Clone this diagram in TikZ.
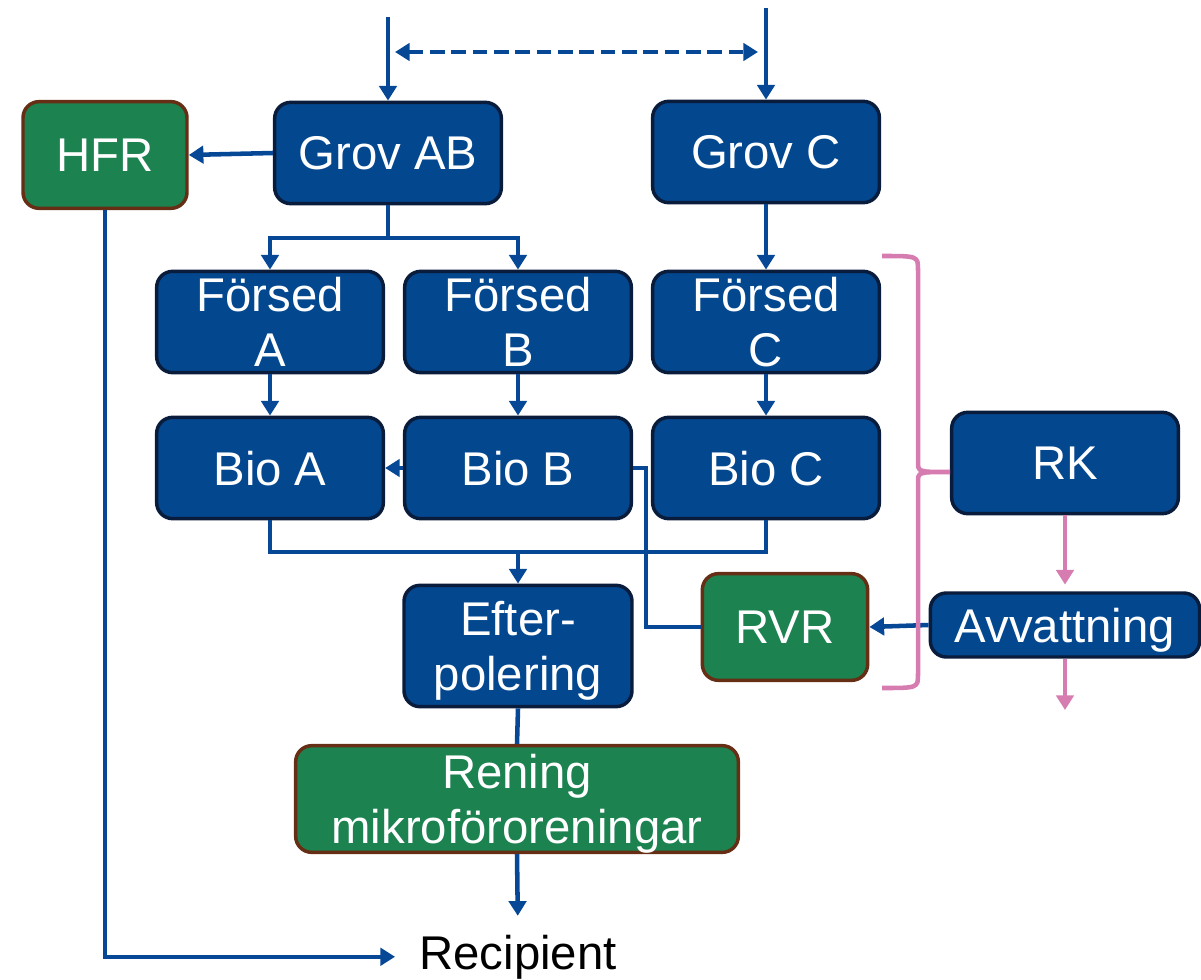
\documentclass[tikz,border=0pt]{standalone}
\usepackage{fontspec}
\setmainfont{Liberation Sans}
\usetikzlibrary{arrows.meta}

\definecolor{boxblue}{RGB}{3,71,143}
\definecolor{boxedge}{RGB}{10,28,60}
\definecolor{boxgreen}{RGB}{28,130,80}
\definecolor{greenedge}{RGB}{102,46,20}
\definecolor{flowblue}{RGB}{6,72,150}
\definecolor{sludgepink}{RGB}{214,124,176}

\begin{document}
\begin{tikzpicture}[x=0.75pt,y=-0.75pt,
    box/.style={draw=boxedge, line width=2.6pt, fill=boxblue, rounded corners=12pt,
        text=white, align=center, inner sep=0pt, text depth=0pt,
        minimum width=170pt, minimum height=76pt,
        font=\fontsize{35.5}{41.25}\selectfont},
    greenbox/.style={box, draw=greenedge, fill=boxgreen},
    flow/.style={draw=flowblue, line width=3.4pt},
    tip/.style={-{Triangle[width=13pt,length=11pt]}},
    pinkflow/.style={draw=sludgepink, line width=3.4pt, -{Triangle[width=13pt,length=11pt]}}
]
    \useasboundingbox (0,0) rectangle (1201,980);

    % Treatment steps
    \node[greenbox, minimum width=123pt, minimum height=80pt] (hfr) at (105,155) {HFR};
    \node[box] (grovab) at (388,153) {Grov AB};
    \node[box] (grovc) at (766,152) {Grov C};
    \node[box] (forseda) at (270,322) {Försed\\A};
    \node[box] (forsedb) at (518,322) {Försed\\B};
    \node[box] (forsedc) at (766,322) {Försed\\C};
    \node[box] (bioa) at (270,468) {Bio A};
    \node[box] (biob) at (518,468) {Bio B};
    \node[box] (bioc) at (766,468) {Bio C};
    \node[box] (rk) at (1065,463) {RK};
    \node[box, minimum width=171pt, minimum height=91pt] (efter) at (518,646) {Efter-\\polering};
    \node[greenbox, minimum width=124pt, minimum height=80pt] (rvr) at (785,627) {RVR};
    \node[box, minimum width=202pt, minimum height=48pt] (avv) at (1065,625) {Avvattning};
    \node[greenbox, minimum width=332pt, minimum height=80pt] (rening) at (517,799) {Rening\\mikroföroreningar};
    \node[anchor=base, inner sep=0pt, font=\fontsize{35.5}{41.25}\selectfont] (recipient) at (518,969) {Recipient};

    % Inflow
    \coordinate (inab) at (388,17);
    \coordinate (inc) at (766,8);
    \coordinate (dashl) at (395,52);
    \coordinate (dashr) at (758,52);
    \draw[flow, tip] (inab) -- (grovab.north);
    \draw[flow, tip] (inc) -- (grovc.north);
    \draw[flow, dashed, dash pattern=on 11pt off 5pt,
        {Triangle[width=13pt,length=11pt]}-{Triangle[width=13pt,length=11pt]}] (dashl) -- (dashr);

    % Water line
    \draw[flow, tip] (grovab.west) -- (hfr.east);
    \coordinate (splitab) at (388,238);
    \draw[flow] (grovab.south) -- (splitab);
    \draw[flow, tip] (splitab) -| (forseda.north);
    \draw[flow, tip] (splitab) -| (forsedb.north);
    \draw[flow, tip] (grovc.south) -- (forsedc.north);
    \draw[flow, tip] (forseda.south) -- (bioa.north);
    \draw[flow, tip] (forsedb.south) -- (biob.north);
    \draw[flow, tip] (forsedc.south) -- (bioc.north);
    \draw[flow, tip] (biob.west) -- (bioa.east);
    \coordinate (mergebio) at (518,552);
    \draw[flow] (bioa.south) |- (mergebio) -| (bioc.south);
    \draw[flow, tip] (mergebio) -- (efter.north);
    \draw[flow] (efter.south) -- (rening.north);
    \draw[flow, tip, shorten >=14pt] (rening.south) -- (recipient.north);
    \draw[flow, tip, shorten >=18pt] (hfr.south) |- (recipient.west);

    % Reject water
    \draw[flow, line width=2.8pt] (biob.east) -- ++(13,0) |- (rvr.west);
    \draw[flow, tip] (avv.west) -- (rvr.east);

    % Sludge line
    \draw[pinkflow, shorten >=5pt] (rk.south) -- (avv.north);
    \coordinate (sludgeout) at (1065,710);
    \draw[pinkflow] (avv.south) -- (sludgeout);
    \draw[sludgepink, line width=3.4pt] (882,256) .. controls (918,256) .. (918,270)
        -- (918,462) .. controls (918,472) .. (950,472)
        .. controls (918,472) .. (918,482) -- (918,674)
        .. controls (918,688) .. (882,688);
\end{tikzpicture}
\end{document}
